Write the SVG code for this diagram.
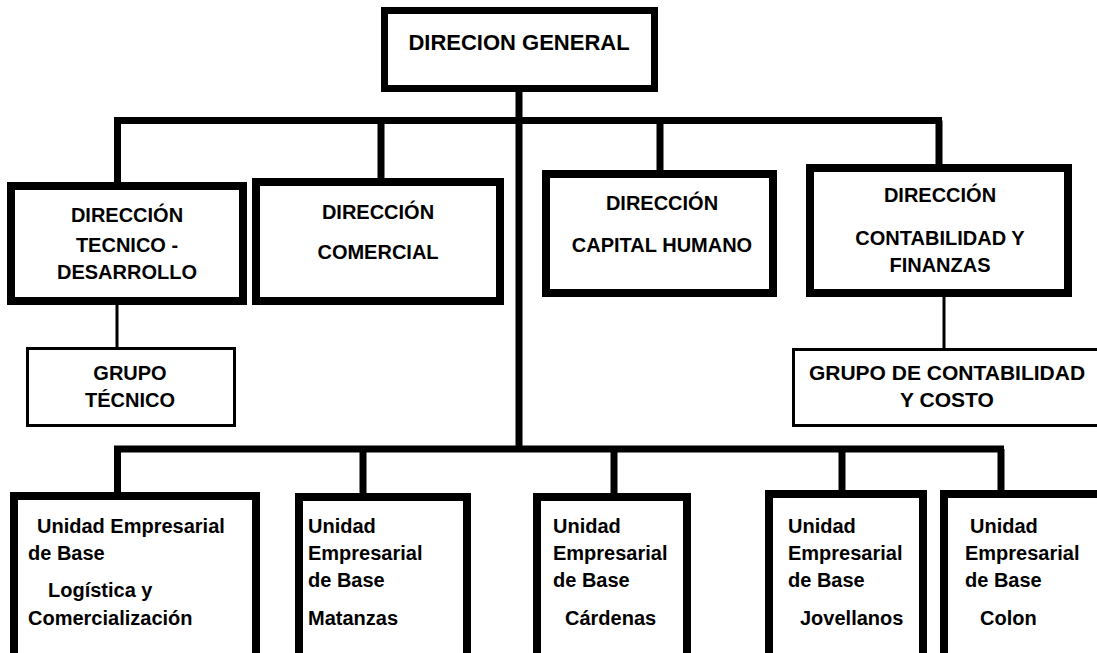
<svg xmlns="http://www.w3.org/2000/svg" width="1097" height="653" viewBox="0 0 1097 653">
<style>
.b{fill:#fff;stroke:#000;stroke-width:8}
.t{fill:#fff;stroke:#000;stroke-width:3}
.c{fill:none;stroke:#000;stroke-width:7}
.c3{fill:none;stroke:#000;stroke-width:3}
text{font-family:"Liberation Sans",Arial,sans-serif;font-weight:bold;font-size:20px;fill:#000}
.m{text-anchor:middle}
.big{font-size:22px}
.mid{font-size:21px}
</style>
<rect width="1097" height="653" fill="#fff"/>
<g id="connectors">
<path class="c" d="M519 92V449M114 120.5H942M117.5 120.5V182M381 120.5V178M660 120.5V170M939 120.5V164"/>
<path class="c3" d="M117 305V347M944 297V348"/>
<path class="c" d="M114 449H1004M117.5 449V492M363 449V493M614 449V493M842 449V490M1001 449V490"/>
</g>
<g id="n-general"><rect class="b" x="384.5" y="10.5" width="270" height="78" style="stroke-width:7"/><text class="m big" x="519" y="50">DIRECION GENERAL</text></g>
<g id="n-tecnico"><rect class="b" x="11" y="186" width="232" height="115"/><text class="m" x="127" y="222">DIRECCIÓN</text><text class="m" x="127" y="252">TECNICO -</text><text class="m" x="127" y="279">DESARROLLO</text></g>
<g id="n-comercial"><rect class="b" x="256" y="182" width="244" height="119"/><text class="m" x="378" y="219">DIRECCIÓN</text><text class="m" x="378" y="259">COMERCIAL</text></g>
<g id="n-capital"><rect class="b" x="546" y="174" width="227" height="119"/><text class="m" x="662" y="210">DIRECCIÓN</text><text class="m" x="662" y="252">CAPITAL HUMANO</text></g>
<g id="n-contab"><rect class="b" x="810" y="168" width="258" height="125"/><text class="m" x="940" y="202">DIRECCIÓN</text><text class="m" x="940" y="245">CONTABILIDAD Y</text><text class="m" x="940" y="272">FINANZAS</text></g>
<g id="n-grupo-tec"><rect class="t" x="27.5" y="348.5" width="207" height="77"/><text class="m" x="130" y="380">GRUPO</text><text class="m" x="130" y="407">TÉCNICO</text></g>
<g id="n-grupo-cont"><rect class="t" x="793.5" y="349.5" width="310" height="76"/><text class="m mid" x="947" y="380">GRUPO DE CONTABILIDAD</text><text class="m mid" x="947" y="407">Y COSTO</text></g>
<g id="n-ueb1"><rect class="b" x="14" y="496" width="242" height="170"/><text x="37" y="533">Unidad Empresarial</text><text x="28" y="560">de Base</text><text x="48" y="597">Logística y</text><text x="28" y="625">Comercialización</text></g>
<g id="n-ueb2"><rect class="b" x="299" y="497" width="168" height="170"/><text x="308" y="533">Unidad</text><text x="308" y="560">Empresarial</text><text x="308" y="587">de Base</text><text x="308" y="625">Matanzas</text></g>
<g id="n-ueb3"><rect class="b" x="537" y="497" width="150" height="170"/><text x="553" y="533">Unidad</text><text x="553" y="560">Empresarial</text><text x="553" y="587">de Base</text><text x="565" y="625">Cárdenas</text></g>
<g id="n-ueb4"><rect class="b" x="769" y="494" width="154" height="170"/><text x="788" y="533">Unidad</text><text x="788" y="560">Empresarial</text><text x="788" y="587">de Base</text><text x="800" y="625">Jovellanos</text></g>
<g id="n-ueb5"><rect class="b" x="944" y="494" width="160" height="170"/><text x="970" y="533">Unidad</text><text x="965" y="560">Empresarial</text><text x="965" y="587">de Base</text><text x="980" y="625">Colon</text></g>
</svg>
